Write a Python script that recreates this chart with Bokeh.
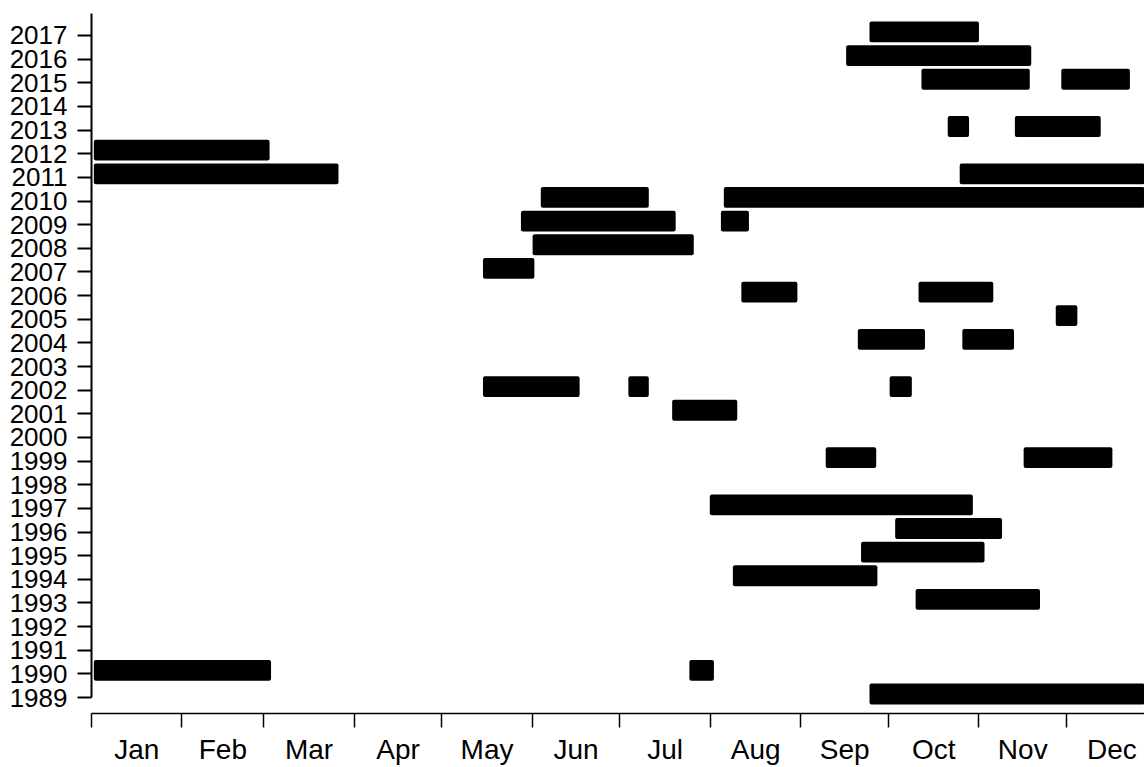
import numpy as np
from bokeh.plotting import figure
from bokeh.models import Range1d, FixedTicker, ColumnDataSource
from bokeh.embed import file_html
from bokeh.resources import INLINE

# ---------------- data ----------------
months = ["Jan", "Feb", "Mar", "Apr", "May", "Jun",
          "Jul", "Aug", "Sep", "Oct", "Nov", "Dec"]
month_days = [31, 28, 31, 30, 31, 30, 31, 31, 30, 31, 30, 31]
years = list(range(1989, 2018))

# each bar: year, start day, end day (day 0 = 1 Jan)
bar_year = [1989, 1990, 1990, 1993, 1994, 1995, 1996, 1997,
            1999, 1999, 2001, 2002, 2002, 2002, 2004, 2004,
            2005, 2006, 2006, 2007, 2008, 2009, 2009, 2010,
            2010, 2011, 2011, 2012, 2013, 2013, 2015, 2015,
            2016, 2017]
bar_start = [266.5, 0.8, 204.8, 282.3, 219.7, 263.6, 275.3, 211.8,
             251.5, 319.3, 198.9, 134.1, 183.9, 273.4, 262.5, 298.3,
             330.3, 222.6, 283.3, 134.1, 151.1, 147.1, 215.6, 153.9,
             216.6, 0.8, 297.4, 0.8, 293.3, 316.3, 284.3, 332.2,
             258.5, 266.5]
bar_end = [365.0, 61.5, 213.2, 324.9, 269.2, 305.9, 311.9, 301.9,
           268.8, 349.7, 221.2, 167.2, 190.9, 281.0, 285.5, 316.0,
           337.7, 241.8, 308.9, 151.7, 206.3, 200.1, 225.2, 190.9,
           365.0, 84.6, 365.0, 61.0, 300.6, 345.7, 321.4, 355.7,
           321.9, 304.0]

# ---------------- derived ticks ----------------
month_start = np.concatenate([[0], np.cumsum(month_days)[:-1]]).astype(float)
month_mid = month_start + np.array(month_days) / 2.0

y_top = 2017.93
p = figure(width=1144, height=767,
           x_range=Range1d(0, 360.7), y_range=Range1d(1988.325, y_top),
           output_backend="svg", toolbar_location=None,
           min_border_left=91, min_border_right=0,
           min_border_top=13, min_border_bottom=52)
p.outline_line_color = None
p.xgrid.visible = False
p.ygrid.visible = False
p.background_fill_color = "white"
p.border_fill_color = "white"

src = ColumnDataSource(dict(y=np.array(bar_year) + 0.15,
                            left=bar_start, right=bar_end))
p.hbar(y="y", left="left", right="right", height=0.88, source=src,
       fill_color="black", line_color=None, border_radius=2)

FONT = "Liberation Sans"

# x axis
xa = p.xaxis[0]
xa.ticker = FixedTicker(ticks=list(month_mid), minor_ticks=list(month_start))
xa.major_label_overrides = {float(m): name for m, name in zip(month_mid, months)}
xa.major_tick_line_color = None
xa.major_tick_out = 0
xa.major_tick_in = 0
xa.minor_tick_out = 14
xa.minor_tick_in = 0
xa.minor_tick_line_color = "black"
xa.minor_tick_line_width = 1.5
xa.axis_line_color = "black"
xa.axis_line_width = 1.5
xa.major_label_standoff = 6
xa.major_label_text_font = FONT
xa.major_label_text_font_size = "28px"
xa.major_label_text_line_height = 1.0
xa.major_label_text_color = "black"

# y axis
ya = p.yaxis[0]
ya.ticker = FixedTicker(ticks=years, minor_ticks=[])
ya.bounds = (1989, y_top)
ya.major_tick_out = 14
ya.major_tick_in = 0
ya.major_tick_line_color = "black"
ya.major_tick_line_width = 2
ya.minor_tick_line_color = None
ya.axis_line_color = "black"
ya.axis_line_width = 2
ya.major_label_standoff = 10
ya.major_label_text_font = FONT
ya.major_label_text_font_size = "26px"
ya.major_label_text_color = "black"

open("out.html", "w").write(file_html(p, INLINE))
